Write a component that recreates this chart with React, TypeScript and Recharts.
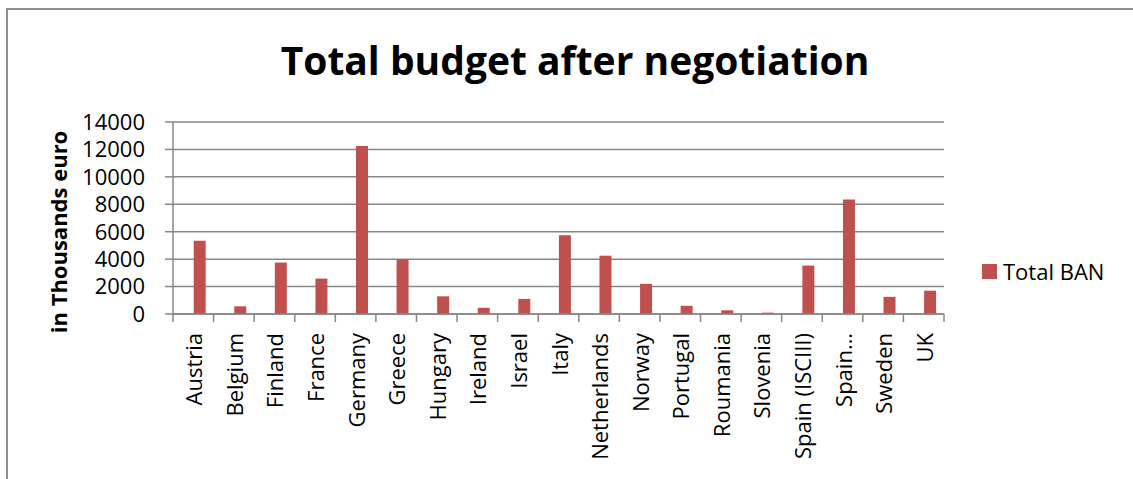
import React from 'react';
import { BarChart, Bar, XAxis, YAxis, CartesianGrid, Legend } from 'recharts';

const countries = [
  'Austria', 'Belgium', 'Finland', 'France', 'Germany', 'Greece', 'Hungary',
  'Ireland', 'Israel', 'Italy', 'Netherlands', 'Norway', 'Portugal', 'Roumania',
  'Slovenia', 'Spain (ISCIII)', 'Spain…', 'Sweden', 'UK',
];
const totalBan = [
  5350, 560, 3750, 2580, 12250, 4000, 1290,
  450, 1100, 5750, 4250, 2200, 600, 270,
  100, 3530, 8350, 1250, 1700,
];
const yTicks = [0, 2000, 4000, 6000, 8000, 10000, 12000, 14000];
const chartTitle = 'Total budget after negotiation';
const yAxisTitle = 'in Thousands euro';
const seriesName = 'Total BAN';

const data = countries.map((c, i) => ({ country: c, blank: null, total: totalBan[i] }));

const W = 1133;
const H = 479;
const PLOT_LEFT = 173;
const PLOT_RIGHT = 944;
const PLOT_TOP = 122;
const XAXIS_H = 165;
const BAND = (PLOT_RIGHT - PLOT_LEFT) / countries.length;
const GRAY = '#878787';
const RED = '#C0504D';
const FONT = '"Open Sans", sans-serif';
const TICK_SIZE = 8;
const TICK_MARGIN = 11;

const XTick = (props: any) => {
  const { x, y, payload, index } = props;
  const axisY = y - TICK_SIZE - TICK_MARGIN;
  const left = x - BAND / 2;
  const right = x + BAND / 2;
  return (
    <g>
      <line x1={left} x2={left} y1={axisY} y2={axisY + TICK_SIZE} stroke={GRAY} strokeWidth={1.5} />
      {index === countries.length - 1 && (
        <line x1={right} x2={right} y1={axisY} y2={axisY + TICK_SIZE} stroke={GRAY} strokeWidth={1.5} />
      )}
      <text
        x={0}
        y={0}
        transform={`translate(${x},${y}) rotate(-90)`}
        textAnchor="end"
        dominantBaseline="central"
        fontFamily={FONT}
        fontSize={22}
        fill="#000"
      >
        {payload.value}
      </text>
    </g>
  );
};

export default function App() {
  return (
    <div style={{ position: 'fixed', left: 0, top: 0, width: W, height: H, overflow: 'hidden', background: '#fff' }}>
      <div
        style={{
          position: 'absolute', left: 6, top: 8, width: 2000, height: 2000,
          borderTop: `2px solid #8e8e8e`, borderLeft: `2px solid #8e8e8e`,
        }}
      />
      <div
        style={{
          position: 'absolute', left: 575, top: 40, transform: 'translateX(-50%)',
          whiteSpace: 'nowrap', fontFamily: FONT, fontWeight: 700, fontSize: 39, lineHeight: '39px', color: '#000',
        }}
      >
        {chartTitle}
      </div>
      <div
        style={{
          position: 'absolute', left: 58, top: 232, transform: 'translate(-50%, -50%) rotate(-90deg)',
          whiteSpace: 'nowrap', fontFamily: FONT, fontWeight: 700, fontSize: 22, lineHeight: '22px', color: '#000',
        }}
      >
        {yAxisTitle}
      </div>
      <div style={{ position: 'absolute', left: 0, top: 0 }}>
        <BarChart
          width={W}
          height={H}
          data={data}
          margin={{ top: PLOT_TOP, right: W - PLOT_RIGHT, bottom: 0, left: 0 }}
          barCategoryGap="21.4%"
          barGap={0}
        >
          <CartesianGrid vertical={false} stroke={GRAY} strokeWidth={1.5} />
          <XAxis
            dataKey="country"
            interval={0}
            height={XAXIS_H}
            axisLine={{ stroke: GRAY, strokeWidth: 1.5 }}
            tickLine={false}
            tickSize={TICK_SIZE}
            tickMargin={TICK_MARGIN}
            tick={<XTick />}
          />
          <YAxis
            width={PLOT_LEFT}
            domain={[0, 14000]}
            ticks={yTicks}
            interval={0}
            axisLine={{ stroke: GRAY, strokeWidth: 1.5 }}
            tickLine={{ stroke: GRAY, strokeWidth: 1.5 }}
            tickSize={8}
            tickMargin={20}
            tick={{ fill: '#000', fontFamily: FONT, fontSize: 22 }}
          />
          <Bar dataKey="blank" fill={RED} legendType="none" isAnimationActive={false} />
          <Bar dataKey="total" name={seriesName} fill={RED} isAnimationActive={false} />
          <Legend
            layout="horizontal"
            align="center"
            verticalAlign="middle"
            wrapperStyle={{ left: 982, top: 256, width: 'auto', height: 'auto' }}
            content={(p: any) => (
              <div style={{ display: 'flex', alignItems: 'center', height: 30 }}>
                {(p.payload || []).filter((e: any) => e.type !== 'none').map((e: any) => (
                  <div key={e.value} style={{ display: 'flex', alignItems: 'center' }}>
                    <span style={{ display: 'inline-block', width: 15, height: 15, background: e.color, marginRight: 6 }} />
                    <span style={{ fontFamily: FONT, fontSize: 22, lineHeight: '30px', color: '#000' }}>{e.value}</span>
                  </div>
                ))}
              </div>
            )}
          />
        </BarChart>
      </div>
    </div>
  );
}
